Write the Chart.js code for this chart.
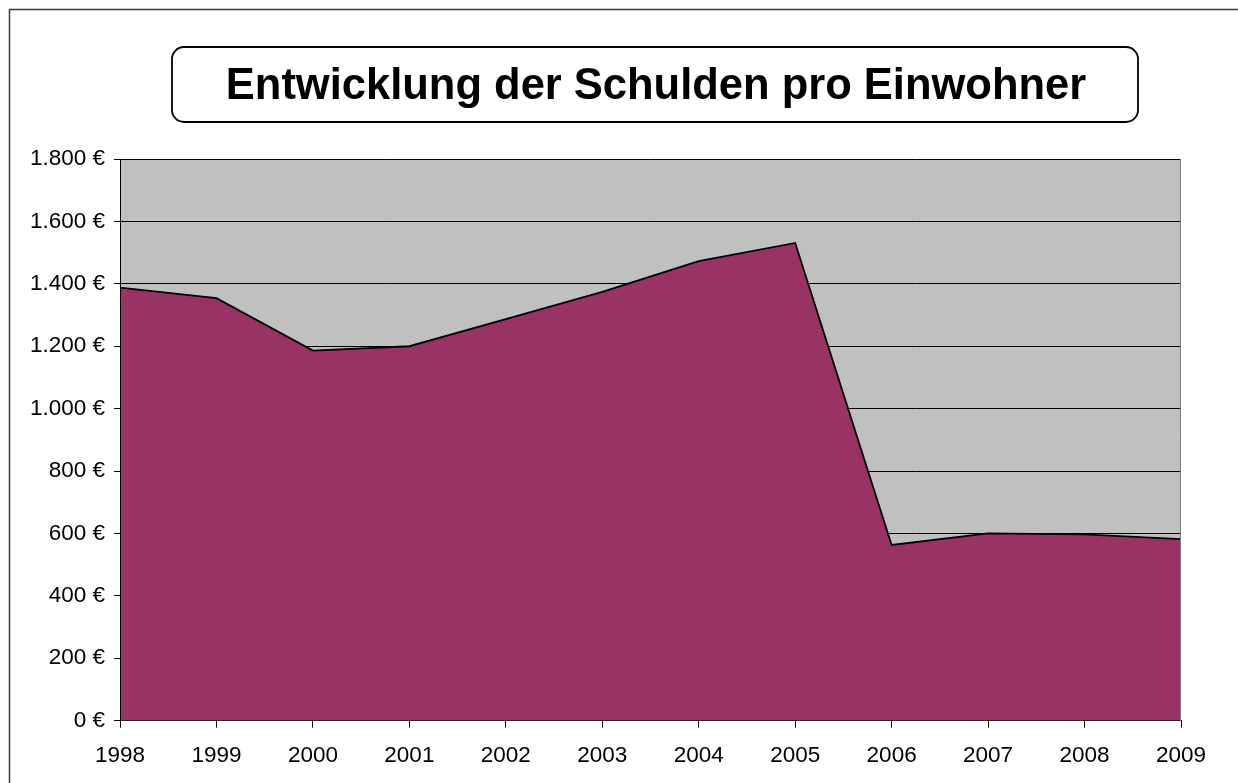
<!DOCTYPE html>
<html>
<head>
<meta charset="utf-8">
<script src="https://cdn.jsdelivr.net/npm/chart.js@4.4.1/dist/chart.umd.min.js"></script>
<style>
html,body{margin:0;padding:0;background:#fff;}
canvas{display:block;}
</style>
</head>
<body>
<canvas id="c" width="1238" height="783"></canvas>
<script>
const chartTitle = "Entwicklung der Schulden pro Einwohner";
const categories = ["1998","1999","2000","2001","2002","2003","2004","2005","2006","2007","2008","2009"];
const debtPerResident = [1388, 1354, 1186, 1200, 1287, 1374, 1473, 1531, 563, 600, 597, 582];
const yTicks = [0, 200, 400, 600, 800, 1000, 1200, 1400, 1600, 1800];

const FONT = '"Liberation Sans", Arial, sans-serif';

function fmtEuro(v){
  const s = String(Math.round(v));
  return s.replace(/\B(?=(\d{3})+(?!\d))/g, '.') + ' €';
}

const decor = {
  id: 'decor',
  beforeDraw(chart){
    const {ctx, chartArea:a} = chart;
    ctx.save();
    ctx.fillStyle = '#fff';
    ctx.fillRect(0,0,chart.width,chart.height);
    ctx.fillStyle = '#C0C0C0';
    ctx.fillRect(a.left, a.top, a.right-a.left, a.bottom-a.top);
    // outer border
    ctx.strokeStyle = '#3a3a3a';
    ctx.lineWidth = 1.5;
    ctx.beginPath();
    ctx.moveTo(9.5, chart.height + 5);
    ctx.lineTo(9.5, 9.5);
    ctx.lineTo(chart.width + 5, 9.5);
    ctx.stroke();
    // title box
    const x0 = 172, y0 = 47, x1 = 1138, y1 = 122, r = 12;
    ctx.lineWidth = 1.8;
    ctx.strokeStyle = '#000';
    ctx.beginPath();
    ctx.moveTo(x0 + r, y0);
    ctx.lineTo(x1 - r, y0);
    ctx.arcTo(x1, y0, x1, y0 + r, r);
    ctx.lineTo(x1, y1 - r);
    ctx.arcTo(x1, y1, x1 - r, y1, r);
    ctx.lineTo(x0 + r, y1);
    ctx.arcTo(x0, y1, x0, y1 - r, r);
    ctx.lineTo(x0, y0 + r);
    ctx.arcTo(x0, y0, x0 + r, y0, r);
    ctx.closePath();
    ctx.fillStyle = '#fff';
    ctx.fill();
    ctx.stroke();
    ctx.fillStyle = '#000';
    ctx.font = 'bold 43.5px ' + FONT;
    ctx.textAlign = 'center';
    ctx.textBaseline = 'alphabetic';
    ctx.fillText(chartTitle, 656, 98.5);
    ctx.restore();
  },
  afterDatasetsDraw(chart){
    const {ctx, chartArea:a} = chart;
    ctx.save();
    ctx.strokeStyle = '#000';
    ctx.lineWidth = 1;
    ctx.beginPath();
    ctx.moveTo(a.left + 0.5, a.top);
    ctx.lineTo(a.left + 0.5, a.bottom);
    ctx.stroke();
    ctx.strokeStyle = '#808080';
    ctx.beginPath();
    ctx.moveTo(a.right - 0.5, a.top);
    ctx.lineTo(a.right - 0.5, a.bottom);
    ctx.stroke();
    ctx.restore();
  }
};

new Chart(document.getElementById('c'), {
  type: 'line',
  data: {
    labels: categories,
    datasets: [{
      data: debtPerResident,
      fill: 'origin',
      backgroundColor: '#993366',
      borderColor: '#000',
      borderWidth: 1.8,
      pointRadius: 0,
      tension: 0
    }]
  },
  options: {
    responsive: false,
    animation: false,
    devicePixelRatio: 1,
    layout: { padding: { top: 159, right: 57, bottom: 0, left: 0 } },
    plugins: { legend: { display: false }, title: { display: false }, tooltip: { enabled: false } },
    scales: {
      x: {
        offset: false,
        z: 1,
        grid: { drawOnChartArea: false, drawTicks: true, tickLength: 7, color: '#000', lineWidth: 1 },
        border: { display: true, color: '#000', width: 1 },
        ticks: { color: '#000', font: { family: FONT, size: 22.5 }, padding: 15, maxRotation: 0, autoSkip: false },
        afterFit(s){ s.height = 62.3; }
      },
      y: {
        min: 0, max: 1800,
        afterBuildTicks(s){ s.ticks = yTicks.map(v => ({ value: v })); },
        grid: { color: '#000', lineWidth: 1, drawTicks: true, tickLength: 6 },
        border: { display: false },
        ticks: { color: '#000', font: { family: FONT, size: 22.5 }, padding: 9, callback: v => fmtEuro(v) },
        afterFit(s){ s.width = 120; }
      }
    }
  },
  plugins: [decor]
});
</script>
</body>
</html>
